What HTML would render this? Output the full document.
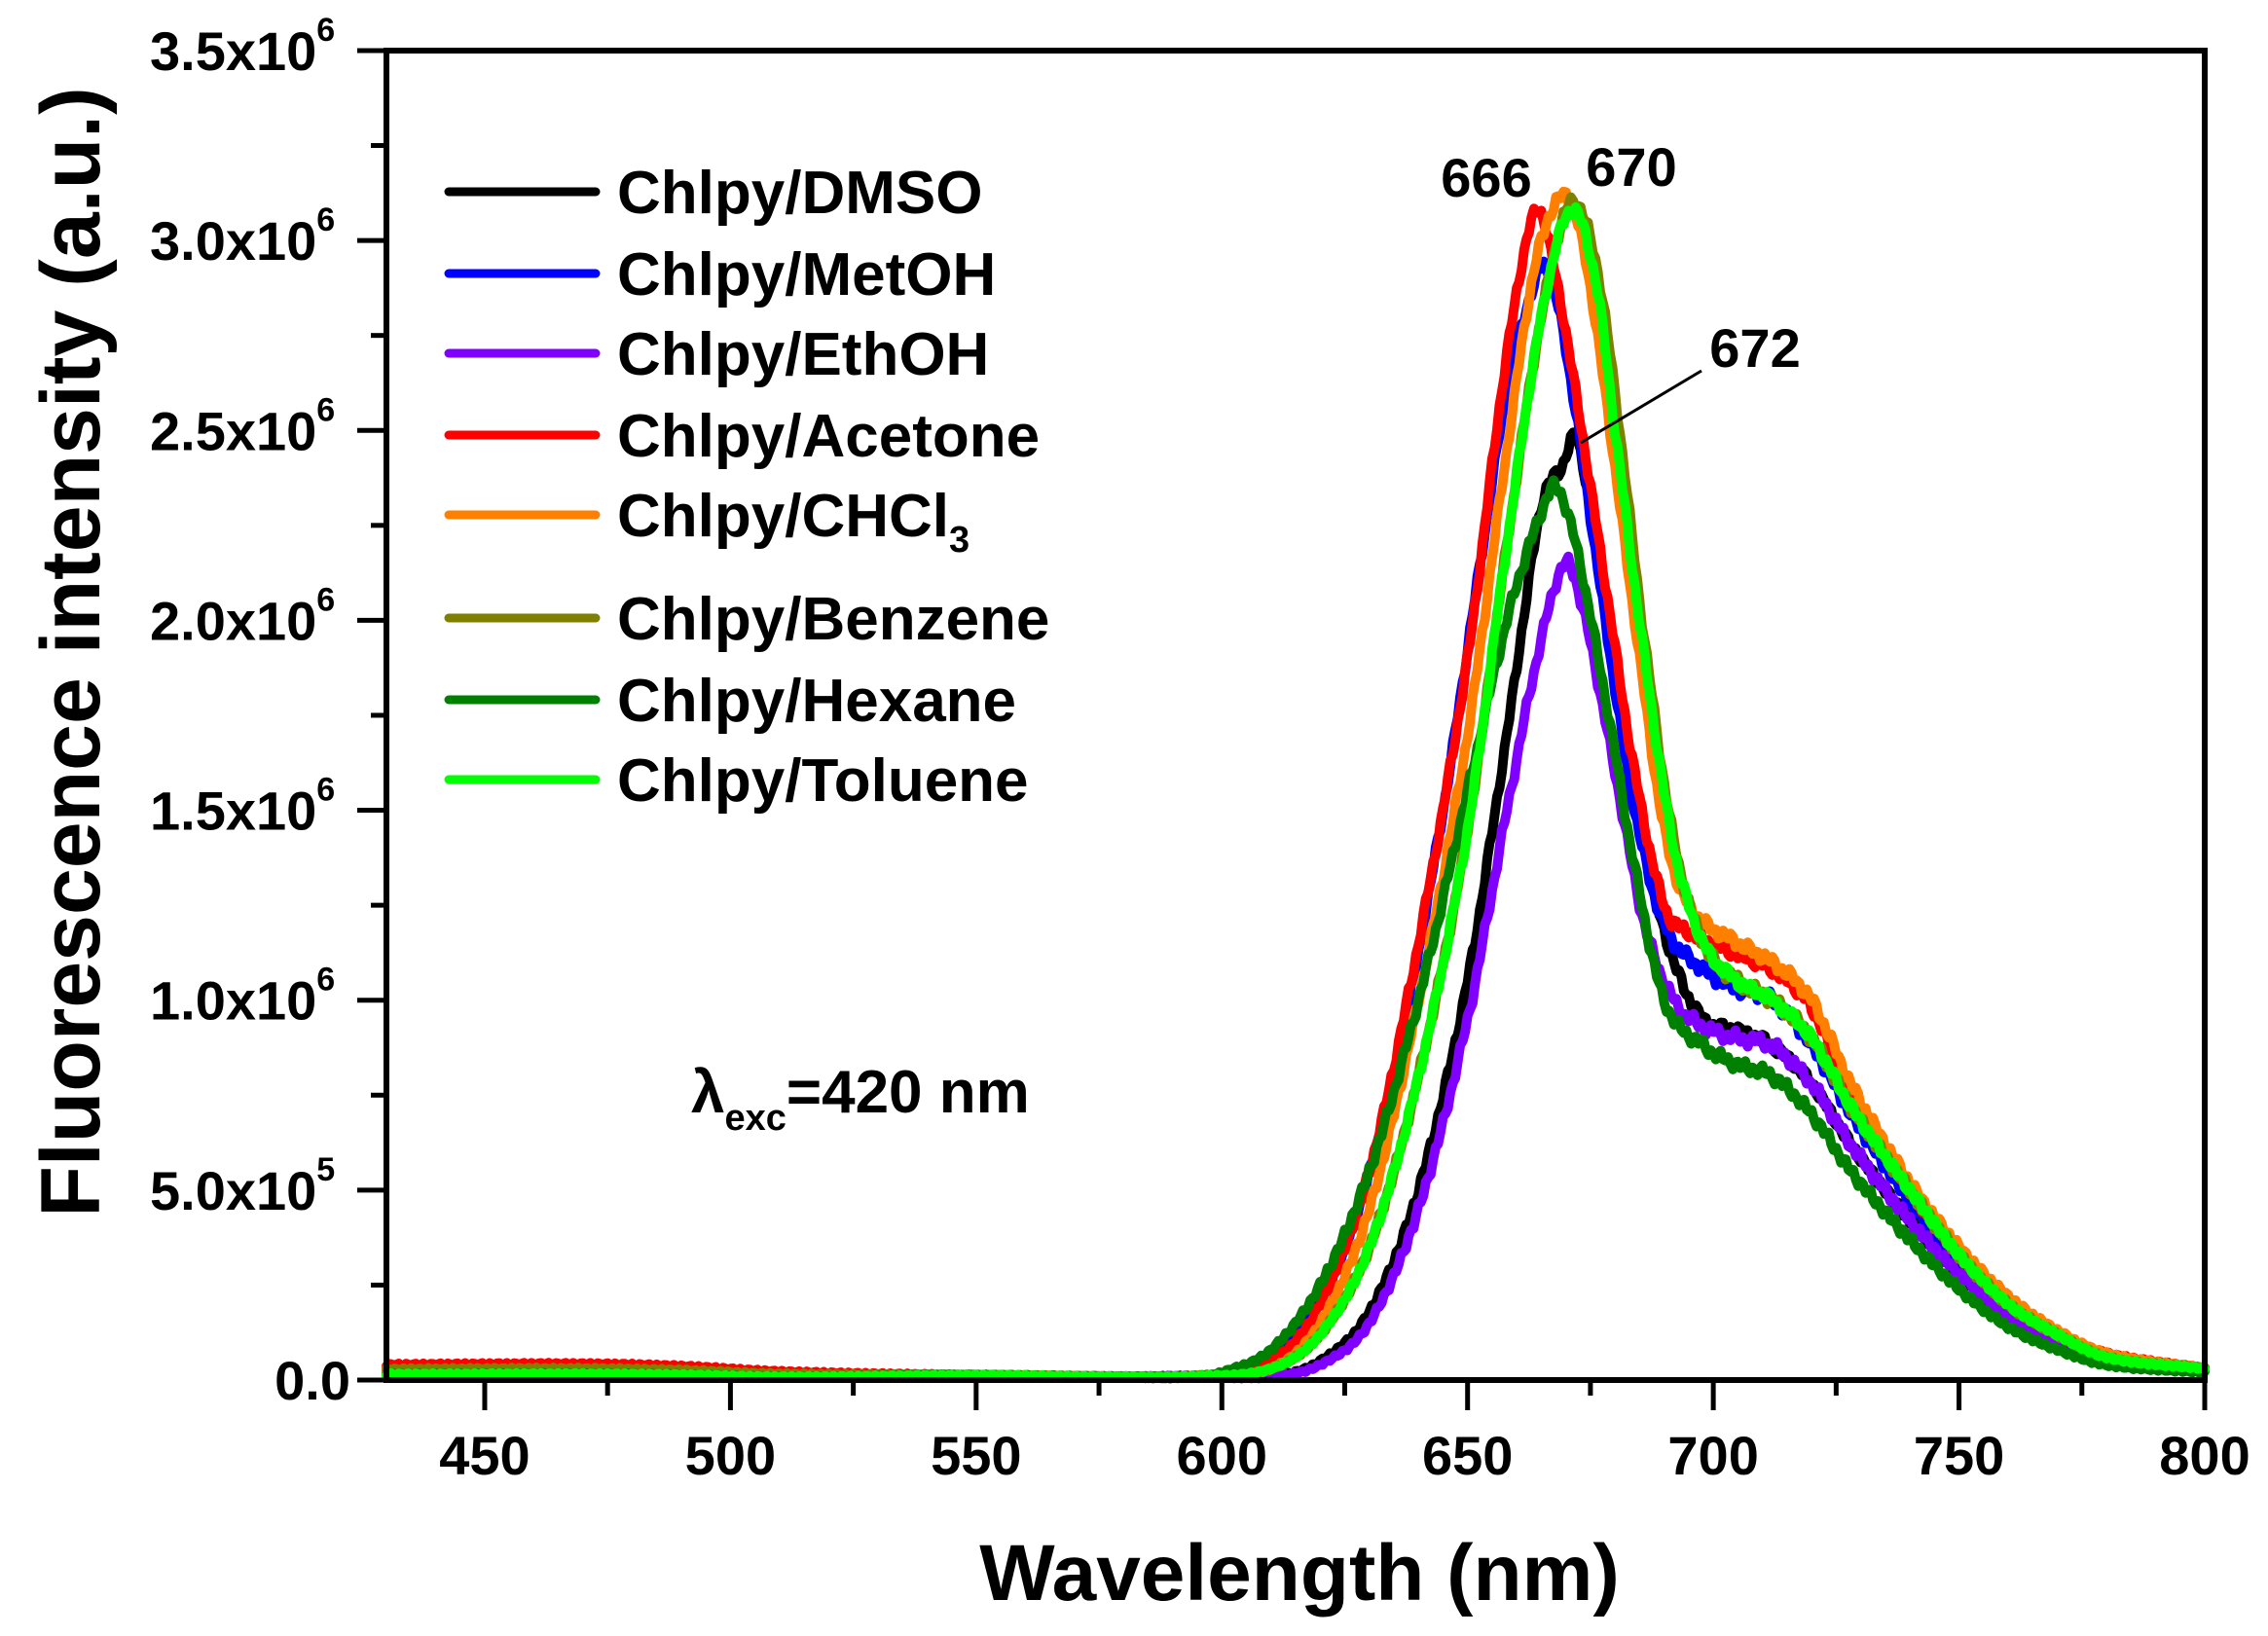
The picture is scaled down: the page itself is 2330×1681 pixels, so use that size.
<!DOCTYPE html>
<html><head><meta charset="utf-8">
<style>
html,body{margin:0;padding:0;background:#fff;}
svg{display:block;}
text{font-family:"Liberation Sans",Arial,sans-serif;font-weight:bold;fill:#000;}
</style></head>
<body>
<svg id="c" width="2330" height="1681" viewBox="0 0 2330 1681" xmlns="http://www.w3.org/2000/svg">
<g id="curves" fill="none" stroke-width="10" stroke-linejoin="round" stroke-linecap="round"></g>
<g stroke="#000" stroke-width="6" fill="none">
<rect x="397" y="52" width="1868" height="1366"/>
</g>
<g id="ticks" stroke="#000" stroke-width="5"></g>
<g id="labels" font-size="56"></g>
<text x="1335" y="1644" font-size="82" text-anchor="middle">Wavelength (nm)</text>
<text transform="translate(102,670) rotate(-90)" font-size="86" text-anchor="middle">Fluorescence  intensity (a.u.)</text>
<g id="legend" font-size="62"></g>
<text x="1527" y="202" font-size="56" text-anchor="middle">666</text>
<text x="1676" y="191" font-size="56" text-anchor="middle">670</text>
<text x="1803" y="377" font-size="56" text-anchor="middle">672</text>
<line x1="1748" y1="381" x2="1624" y2="455" stroke="#000" stroke-width="3"/>
<text x="710" y="1143" font-size="62">λ<tspan font-size="38" dy="18">exc</tspan><tspan dy="-18">=420 nm</tspan></text>
</svg>
<script>
var NS="http://www.w3.org/2000/svg";
function X(nm){return 397+(nm-430)*(1868/370);}
function Y(v){return 1418-v*390.3;}
function el(t,a,p,txt){var e=document.createElementNS(NS,t);for(var k in a)e.setAttribute(k,a[k]);if(txt!==undefined)e.textContent=txt;p.appendChild(e);return e;}
var tk=document.getElementById('ticks'),lb=document.getElementById('labels');
for(var nm=450;nm<=800;nm+=25){var maj=(nm%50==0);el('line',{x1:X(nm),y1:1418,x2:X(nm),y2:maj?1449:1434},tk);
 if(maj)el('text',{x:X(nm),y:1515,'text-anchor':'middle'},lb,String(nm));}
for(var i=0;i<=14;i++){var v=i*0.25,maj=(i%2==0);el('line',{x1:maj?367:381,y1:Y(v),x2:397,y2:Y(v)},tk);
 if(maj){if(i==0){el('text',{x:360,y:Y(0)+20,'text-anchor':'end'},lb,'0.0');}
 else{var s=(v>=1)?v.toFixed(1)+'x10':(v*10).toFixed(1)+'x10';var e=(v>=1)?'6':'5';
  var t=el('text',{x:154,y:Y(v)+20},lb);t.appendChild(document.createTextNode(s));
  el('tspan',{'font-size':'34',dy:'-30'},t,e);}}}
var series=[
['#000000',0.02,[[610,.01],[620,.05],[630,.18],[640,.5],[650,1.05],[658,1.7],[665,2.3],[669,2.4],[672,2.48],[675,2.3],[680,1.9],[686,1.4],[692,1.1],[698,0.95],[705,0.92],[712,0.88],[720,0.78],[728,0.62],[740,0.42],[750,0.28],[760,0.17],[770,0.1],[780,0.05],[800,0.03]]],
['#0000ff',0.02,[[605,.03],[615,.12],[625,.35],[635,.8],[645,1.5],[652,2.1],[658,2.6],[665,2.93],[668,2.85],[672,2.55],[678,2.0],[684,1.5],[690,1.2],[698,1.08],[705,1.03],[712,1.0],[720,0.88],[728,0.7],[740,0.47],[750,0.31],[760,0.19],[770,0.11],[780,0.06],[800,0.03]]],
['#8000ff',0.015,[[610,.01],[620,.04],[630,.15],[640,.45],[650,.95],[658,1.5],[665,1.95],[670,2.15],[674,2.0],[680,1.6],[686,1.2],[692,1.0],[698,0.93],[705,0.9],[712,0.88],[720,0.78],[728,0.62],[740,0.42],[750,0.28],[760,0.17],[770,0.1],[780,0.05],[800,0.03]]],
['#ff0000',0.04,[[610,.05],[620,.2],[630,.55],[640,1.15],[650,1.9],[658,2.7],[664,3.08],[668,2.9],[672,2.6],[678,2.1],[684,1.6],[690,1.25],[695,1.18],[705,1.12],[712,1.08],[720,0.98],[728,0.75],[740,0.5],[750,0.33],[760,0.2],[770,0.12],[780,0.07],[800,0.03]]],
['#ff8000',0.02,[[610,.03],[620,.15],[630,.45],[640,1.0],[650,1.7],[658,2.45],[664,2.95],[670,3.12],[674,2.95],[678,2.6],[684,2.0],[690,1.45],[695,1.25],[705,1.15],[712,1.1],[720,1.0],[728,0.78],[740,0.52],[750,0.35],[760,0.22],[770,0.13],[780,0.07],[800,0.03]]],
['#808000',0.028,[[610,.03],[620,.12],[630,.35],[640,.8],[650,1.45],[658,2.2],[665,2.8],[671,3.1],[676,2.95],[680,2.6],[686,1.95],[692,1.42],[698,1.15],[705,1.05],[712,1.0],[720,0.9],[728,0.72],[740,0.5],[750,0.33],[760,0.2],[770,0.12],[780,0.06],[800,0.03]]],
['#008000',0.015,[[600,.02],[610,.08],[620,.25],[630,.55],[640,1.0],[650,1.55],[658,2.0],[664,2.25],[668,2.35],[672,2.2],[678,1.8],[684,1.35],[690,1.0],[698,0.88],[705,0.83],[712,0.8],[720,0.7],[728,0.55],[740,0.37],[750,0.24],[760,0.14],[770,0.08],[780,0.04],[800,0.02]]],
['#00ff00',0.015,[[610,.03],[620,.12],[630,.35],[640,.8],[650,1.45],[658,2.2],[665,2.8],[671,3.08],[676,2.9],[680,2.5],[686,1.9],[692,1.4],[698,1.15],[705,1.05],[712,1.0],[720,0.9],[728,0.72],[740,0.5],[750,0.33],[760,0.2],[770,0.12],[780,0.06],[800,0.03]]]
];
function interp(pts,x){
 if(x<=pts[0][0])return pts[0][1];
 for(var i=0;i<pts.length-1;i++){if(x<=pts[i+1][0]){
  var p0=pts[Math.max(i-1,0)],p1=pts[i],p2=pts[i+1],p3=pts[Math.min(i+2,pts.length-1)];
  var t=(x-p1[0])/(p2[0]-p1[0]);
  var m1=(p2[1]-p0[1])/(p2[0]-p0[0]||1)*(p2[0]-p1[0]),m2=(p3[1]-p1[1])/(p3[0]-p1[0]||1)*(p2[0]-p1[0]);
  var t2=t*t,t3=t2*t;
  return (2*t3-3*t2+1)*p1[1]+(t3-2*t2+t)*m1+(-2*t3+3*t2)*p2[1]+(t3-t2)*m2;}}
 return pts[pts.length-1][1];}
var g=document.getElementById('curves');
series.forEach(function(s,si){
 var col=s[0],low=s[1],pts=s[2];
 var base=[[430,low],[470,low*1.05],[490,low*0.9],[510,low*0.55],[550,0.012],[580,0.008],[595,0.01]];
 var all=base.concat(pts);
 var d='';
 for(var x=430;x<=800;x+=0.5){
  var v=interp(all,x);
  v+=0.012*Math.sin(x*3.7+si*1.3)*Math.min(1,v*2+0.2)+0.008*Math.sin(x*11.1+si*2.1)*Math.min(1,v);
  if(v<0.002)v=0.002;
  d+=(d?'L':'M')+X(x).toFixed(1)+','+Y(v).toFixed(1);
 }
 el('path',{d:d,stroke:col},g);
});
var lg=document.getElementById('legend');
var names=['Chlpy/DMSO','Chlpy/MetOH','Chlpy/EthOH','Chlpy/Acetone','Chlpy/CHCl','Chlpy/Benzene','Chlpy/Hexane','Chlpy/Toluene'];
var ys=[197,281,363,447,529,635,719,801];
names.forEach(function(n,i){
 el('line',{x1:461,y1:ys[i],x2:612,y2:ys[i],stroke:series[i][0],'stroke-width':9,'stroke-linecap':'round'},lg);
 var t=el('text',{x:634,y:ys[i]+22},lg,n);
 if(i==4){el('tspan',{'font-size':'38',dy:'16'},t,'3');}
});
</script>
</body></html>
